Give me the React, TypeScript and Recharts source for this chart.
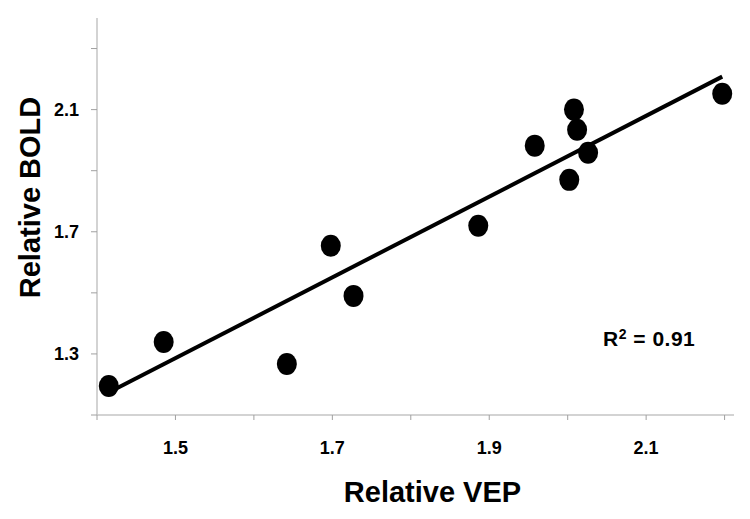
import { ReferenceDot, Scatter, ScatterChart, XAxis, YAxis } from 'recharts';

const FONT = '"Liberation Sans", Arial, Helvetica, sans-serif';

// measured points (Relative VEP, Relative BOLD)
const vep = [1.415, 1.485, 1.642, 1.698, 1.727, 1.886, 1.958, 2.008, 2.012, 2.002, 2.026, 2.197];
const bold = [1.195, 1.339, 1.267, 1.654, 1.49, 1.72, 1.982, 2.1, 2.034, 1.87, 1.959, 2.152];

// regression line ends
const fitVep = [1.416, 2.197];
const fitBold = [1.175, 2.208];

const xTicks = [1.4, 1.5, 1.6, 1.7, 1.8, 1.9, 2.0, 2.1, 2.2];
const xLabels = ['1.5', '1.7', '1.9', '2.1'];
const yTicks = [1.1, 1.3, 1.5, 1.7, 1.9, 2.1, 2.3];
const yLabels = ['1.3', '1.7', '2.1'];

const r2Text = '0.91';
const r2At = { x: 2.045, y: 1.326 };

const points = vep.map((x, i) => ({ x, y: bold[i] }));
const fit = fitVep.map((x, i) => ({ x, y: fitBold[i] }));

const TICK_FS = 18;

function XTick(p: any) {
  const s = Number(p.payload?.value).toFixed(1);
  if (!xLabels.includes(s)) return <g />;
  return (
    <text x={p.x} y={p.y} dy={TICK_FS * 0.72} textAnchor="middle" fontFamily={FONT} fontSize={TICK_FS} fontWeight={700} fill="#000">
      {s}
    </text>
  );
}

function YTick(p: any) {
  const s = Number(p.payload?.value).toFixed(1);
  if (!yLabels.includes(s)) return <g />;
  return (
    <text x={p.x} y={p.y} dy={TICK_FS * 0.36} textAnchor="end" fontFamily={FONT} fontSize={TICK_FS} fontWeight={700} fill="#000">
      {s}
    </text>
  );
}

function Blob(p: any) {
  if (p.cx == null || p.cy == null) return <g />;
  return <ellipse cx={p.cx} cy={p.cy} rx={10} ry={11} fill="#000" />;
}

export default function App() {
  return (
    <div style={{ position: 'absolute', left: 0, top: 0, width: 750, height: 519, background: '#fff' }}>
      <ScatterChart width={750} height={519} margin={{ top: 18, right: 16, bottom: 0, left: 0 }}>
        <XAxis
          type="number"
          dataKey="x"
          domain={[1.4, 2.212]}
          ticks={xTicks}
          allowDataOverflow
          height={104}
          tickSize={5}
          tickMargin={21}
          axisLine={{ stroke: '#c4c4c4', strokeWidth: 1.5 }}
          tickLine={{ stroke: '#a0a0a0' }}
          tick={XTick}
          label={{
            value: 'Relative VEP',
            content: ({ viewBox }: any) => (
              <text
                x={viewBox.x + viewBox.width / 2 + 17}
                y={viewBox.y + 87}
                textAnchor="middle"
                fontFamily={FONT}
                fontSize={29}
                fontWeight={700}
                fill="#000"
              >
                Relative VEP
              </text>
            ),
          }}
        />
        <YAxis
          type="number"
          dataKey="y"
          domain={[1.1, 2.4]}
          ticks={yTicks}
          allowDataOverflow
          width={97}
          tickSize={6}
          tickMargin={12}
          axisLine={{ stroke: '#c4c4c4', strokeWidth: 1.5 }}
          tickLine={{ stroke: '#a0a0a0' }}
          tick={YTick}
          label={{
            value: 'Relative BOLD',
            content: ({ viewBox }: any) => {
              const cx = 40;
              const cy = viewBox.y + viewBox.height / 2 - 19;
              return (
                <text
                  x={cx}
                  y={cy}
                  transform={`rotate(-90, ${cx}, ${cy})`}
                  textAnchor="middle"
                  fontFamily={FONT}
                  fontSize={29}
                  fontWeight={700}
                  fill="#000"
                >
                  Relative BOLD
                </text>
              );
            },
          }}
        />
        <Scatter
          data={fit}
          line={{ stroke: '#000', strokeWidth: 4 }}
          shape={() => <g />}
          isAnimationActive={false}
        />
        <Scatter data={points} shape={Blob} isAnimationActive={false} />
        <ReferenceDot
          x={r2At.x}
          y={r2At.y}
          r={0}
          shape={(p: any) => (
            <text
              x={p.cx}
              y={p.cy}
              fontFamily={FONT}
              fontSize={21}
              fontWeight={700}
              letterSpacing={0.5}
              fill="#000"
            >
              R
              <tspan fontSize={14} dy={-7}>2</tspan>
              <tspan dy={7}>{` = ${r2Text}`}</tspan>
            </text>
          )}
        />
      </ScatterChart>
    </div>
  );
}
